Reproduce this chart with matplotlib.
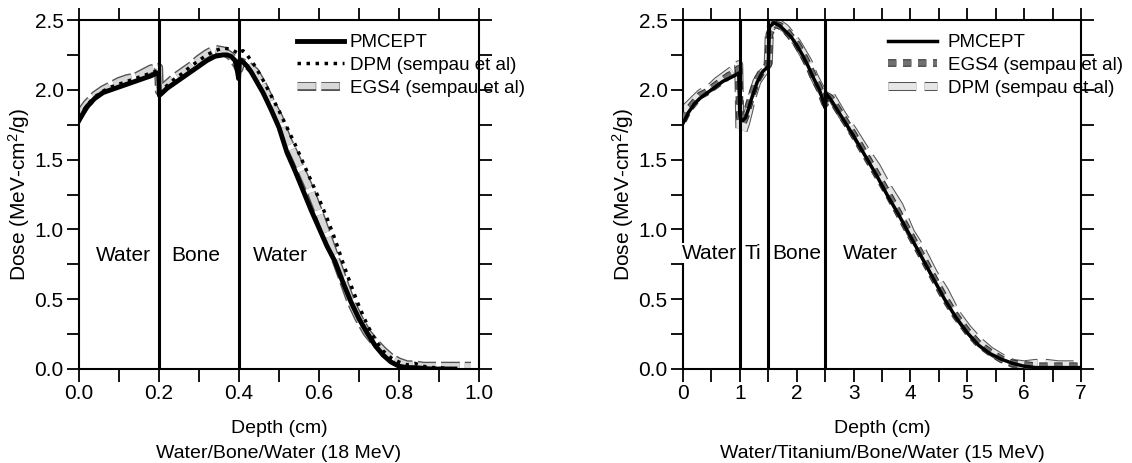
import matplotlib
matplotlib.use("Agg")
import matplotlib.pyplot as plt
import matplotlib.patheffects as pe
from matplotlib.ticker import MultipleLocator

plt.rcParams['font.family'] = ['Liberation Sans', 'DejaVu Sans']
plt.rcParams['mathtext.default'] = 'regular'

# ---------------- Left panel data (Water/Bone/Water, 18 MeV) ----------------
l_pm_x = [0, 0.01, 0.02, 0.04, 0.06, 0.08, 0.10, 0.12, 0.14, 0.16, 0.18, 0.195, 0.199,
          0.201, 0.205, 0.22, 0.24, 0.26, 0.28, 0.30, 0.32, 0.34, 0.36, 0.37, 0.38, 0.39, 0.395, 0.399,
          0.401, 0.405, 0.41, 0.42, 0.43, 0.44, 0.46, 0.48, 0.50, 0.52, 0.54, 0.56, 0.58, 0.60,
          0.62, 0.64, 0.66, 0.68, 0.70, 0.72, 0.74, 0.76, 0.78, 0.80, 0.82, 0.84, 0.86, 0.88,
          0.90, 0.92, 0.94]
l_pm_y = [1.78, 1.83, 1.88, 1.94, 1.98, 2.00, 2.02, 2.04, 2.06, 2.08, 2.10, 2.12, 2.12,
          1.96, 1.97, 2.01, 2.05, 2.09, 2.13, 2.17, 2.21, 2.24, 2.25, 2.25, 2.24, 2.21, 2.15, 2.08,
          2.20, 2.21, 2.20, 2.17, 2.13, 2.08, 1.98, 1.86, 1.73, 1.55, 1.42, 1.28, 1.14, 1.01,
          0.88, 0.77, 0.62, 0.48, 0.36, 0.26, 0.17, 0.10, 0.05, 0.02, 0.01, 0.01, 0.005, 0.0,
          0.0, 0.0, 0.0]

l_dpm_x = [0, 0.02, 0.04, 0.06, 0.08, 0.10, 0.12, 0.14, 0.16, 0.18, 0.199,
           0.201, 0.22, 0.24, 0.26, 0.28, 0.30, 0.32, 0.34, 0.36, 0.38, 0.399,
           0.401, 0.41, 0.42, 0.44, 0.46, 0.48, 0.50, 0.52, 0.54, 0.56, 0.58, 0.60, 0.62,
           0.64, 0.66, 0.68, 0.70, 0.72, 0.74, 0.76, 0.78, 0.80, 0.82, 0.84, 0.86, 0.88,
           0.90, 0.92, 0.94]
l_dpm_y = [1.80, 1.89, 1.95, 1.99, 2.02, 2.04, 2.06, 2.08, 2.10, 2.12, 2.14,
           1.98, 2.03, 2.08, 2.12, 2.17, 2.21, 2.25, 2.28, 2.30, 2.29, 2.26,
           2.27, 2.28, 2.25, 2.17, 2.07, 1.96, 1.85, 1.73, 1.61, 1.48, 1.35, 1.22, 1.08,
           0.93, 0.76, 0.60, 0.45, 0.32, 0.21, 0.13, 0.08, 0.05, 0.03, 0.04, 0.02, 0.01,
           0.01, 0.005, 0.0]

l_egs_x = [0, 0.02, 0.04, 0.06, 0.08, 0.10, 0.12, 0.14, 0.16, 0.18, 0.199,
           0.201, 0.22, 0.24, 0.26, 0.28, 0.30, 0.32, 0.34, 0.36, 0.38, 0.395, 0.40,
           0.405, 0.42, 0.44, 0.46, 0.48, 0.50, 0.52, 0.54, 0.56, 0.58, 0.60, 0.62, 0.64,
           0.66, 0.68, 0.70, 0.72, 0.74, 0.76, 0.78, 0.80, 0.82, 0.84, 0.86, 0.88, 0.90,
           0.92, 0.94, 0.96, 0.98]
l_egs_y = [1.82, 1.90, 1.96, 2.00, 2.03, 2.06, 2.08, 2.09, 2.12, 2.15, 2.16,
           1.99, 2.04, 2.09, 2.13, 2.17, 2.22, 2.26, 2.29, 2.28, 2.24, 2.18, 2.15,
           2.20, 2.18, 2.13, 2.03, 1.91, 1.80, 1.65, 1.53, 1.40, 1.27, 1.12, 0.96, 0.80,
           0.64, 0.48, 0.36, 0.26, 0.19, 0.13, 0.08, 0.05, 0.03, 0.03, 0.02, 0.02, 0.02,
           0.02, 0.02, 0.02, 0.02]

l_bounds = [0.2, 0.4]
l_regions = ["Water", "Bone", "Water"]
l_region_x = [0.11, 0.293, 0.503]

# ---------------- Right panel data (Water/Titanium/Bone/Water, 15 MeV) ----------------
r_pm_x = [0, 0.1, 0.2, 0.3, 0.4, 0.5, 0.6, 0.7, 0.8, 0.9, 0.98,
          1.0, 1.02, 1.05, 1.1, 1.15, 1.2, 1.3, 1.4, 1.48, 1.5,
          1.52, 1.6, 1.7, 1.8, 1.9, 2.0, 2.1, 2.2, 2.3, 2.4, 2.48, 2.5,
          2.52, 2.6, 2.8, 3.0, 3.2, 3.4, 3.6, 3.8, 4.0, 4.2, 4.4, 4.6, 4.8, 5.0,
          5.2, 5.4, 5.6, 5.8, 6.0, 6.2, 6.4, 6.6, 6.8, 7.0]
r_pm_y = [1.76, 1.84, 1.90, 1.94, 1.97, 2.00, 2.03, 2.06, 2.08, 2.10, 2.12,
          1.82, 1.78, 1.78, 1.80, 1.86, 1.93, 2.05, 2.13, 2.16, 2.17,
          2.45, 2.48, 2.46, 2.42, 2.38, 2.32, 2.25, 2.17, 2.08, 2.00, 1.90, 1.87,
          1.97, 1.93, 1.80, 1.67, 1.53, 1.39, 1.24, 1.10, 0.95, 0.80, 0.65, 0.50, 0.37, 0.26,
          0.17, 0.11, 0.07, 0.04, 0.02, 0.01, 0.01, 0.01, 0.01, 0.01]

r_egs_x = [0, 0.1, 0.2, 0.3, 0.4, 0.5, 0.6, 0.7, 0.8, 0.9, 0.98,
           1.0, 1.02, 1.05, 1.1, 1.15, 1.2, 1.3, 1.4, 1.48, 1.5,
           1.52, 1.6, 1.7, 1.8, 1.9, 2.0, 2.1, 2.2, 2.3, 2.4, 2.48, 2.5,
           2.52, 2.6, 2.8, 3.0, 3.2, 3.4, 3.6, 3.8, 4.0, 4.2, 4.4, 4.6, 4.8, 5.0,
           5.2, 5.4, 5.6, 5.8, 6.0, 6.2, 6.4, 6.6, 6.8, 7.0]
r_egs_y = [1.78, 1.86, 1.91, 1.96, 1.98, 2.01, 2.04, 2.07, 2.10, 2.12, 2.15,
           1.80, 1.76, 1.76, 1.81, 1.88, 1.95, 2.07, 2.14, 2.17, 2.18,
           2.40, 2.47, 2.46, 2.43, 2.38, 2.33, 2.26, 2.18, 2.09, 2.01, 1.92, 1.90,
           1.96, 1.94, 1.81, 1.68, 1.54, 1.40, 1.26, 1.11, 0.96, 0.81, 0.66, 0.51, 0.38, 0.27,
           0.18, 0.12, 0.07, 0.04, 0.03, 0.02, 0.02, 0.02, 0.02, 0.02]

r_dpm_x = [0, 0.1, 0.2, 0.3, 0.4, 0.5, 0.6, 0.7, 0.8, 0.9, 0.98,
           1.0, 1.02, 1.05, 1.1, 1.15, 1.2, 1.3, 1.4, 1.48, 1.5,
           1.52, 1.6, 1.7, 1.8, 1.9, 2.0, 2.1, 2.2, 2.3, 2.4, 2.48, 2.5,
           2.52, 2.6, 2.8, 3.0, 3.2, 3.4, 3.6, 3.8, 4.0, 4.2, 4.4, 4.6, 4.8, 5.0,
           5.2, 5.4, 5.6, 5.8, 6.0, 6.2, 6.4, 6.6, 6.8, 7.0]
r_dpm_y = [1.85, 1.89, 1.93, 1.97, 2.00, 2.02, 2.06, 2.09, 2.12, 2.15, 2.18,
           1.72, 1.69, 1.70, 1.76, 1.84, 1.93, 2.06, 2.12, 2.15, 2.20,
           2.42, 2.49, 2.47, 2.44, 2.39, 2.34, 2.27, 2.20, 2.10, 2.02, 1.97, 1.98,
           1.99, 1.96, 1.82, 1.70, 1.57, 1.45, 1.30, 1.17, 0.98, 0.85, 0.69, 0.56, 0.40, 0.29,
           0.20, 0.13, 0.08, 0.04, 0.03, 0.04, 0.04, 0.03, 0.03, 0.03]

r_bounds = [1.0, 1.5, 2.5]
r_regions = ["Water", "Ti", "Bone", "Water"]
r_region_x = [0.47, 1.22, 2.0, 3.3]

fig = plt.figure(figsize=(11.32, 4.63), dpi=100)
axL = fig.add_axes([79/1132, 94/463, 400/1132, 349/463])
axR = fig.add_axes([683/1132, 94/463, 398/1132, 349/463])

FS = 15
XFS = 14
LFS = 13.5

def style(ax, xmaj, xmin, xlim, xfmt):
    ax.set_xlim(*xlim)
    ax.set_ylim(0, 2.5)
    ax.xaxis.set_major_locator(MultipleLocator(xmaj))
    ax.xaxis.set_minor_locator(MultipleLocator(xmin))
    ax.yaxis.set_major_locator(MultipleLocator(0.5))
    ax.yaxis.set_minor_locator(MultipleLocator(0.25))
    ax.tick_params(which='both', direction='out', length=9, width=1.3,
                   top=True, right=True, labelsize=FS, pad=2)
    for s in ax.spines.values():
        s.set_linewidth(1.5)
    ax.xaxis.set_major_formatter(xfmt)
    ax.set_ylabel('Dose (MeV-cm$^{2}$/g)', fontsize=FS, labelpad=1.5)

style(axL, 0.2, 0.1, (0, 1.0), matplotlib.ticker.FormatStrFormatter('%.1f'))
style(axR, 1, 0.5, (0, 7), matplotlib.ticker.FormatStrFormatter('%d'))
axL.set_xlabel('Depth (cm)\nWater/Bone/Water (18 MeV)', fontsize=XFS, linespacing=1.62, labelpad=12)
axR.set_xlabel('Depth (cm)\nWater/Titanium/Bone/Water (15 MeV)', fontsize=XFS, linespacing=1.62, labelpad=12)

outline = [pe.Stroke(linewidth=6.5, foreground='#555555'), pe.Normal()]

# Left panel
axL.plot(l_egs_x, l_egs_y, color='#d8d8d8', lw=4.5, ls=(0, (3, 0.8)),
         path_effects=outline, label='EGS4 (sempau et al)', zorder=2)
axL.plot(l_pm_x, l_pm_y, color='black', lw=3.5, label='PMCEPT', zorder=3)
axL.plot(l_dpm_x, l_dpm_y, color='black', lw=2.5, ls=(0, (1, 1.6)),
         label='DPM (sempau et al)', zorder=4)
for b in l_bounds:
    axL.axvline(b, color='black', lw=2.2, zorder=5)
for t, xx in zip(l_regions, l_region_x):
    axL.text(xx, 0.81, t, fontsize=FS, ha='center', va='center', zorder=6)
h, lab = axL.get_legend_handles_labels()
order = [1, 2, 0]
axL.legend([h[i] for i in order], [lab[i] for i in order], loc='upper left',
           bbox_to_anchor=(0.545, 0.96), frameon=False, fontsize=LFS,
           handlelength=2.5, handletextpad=0.3, labelspacing=0.3,
           borderaxespad=0, borderpad=0)

# Right panel
axR.plot(r_dpm_x, r_dpm_y, color='#e6e6e6', lw=5, ls=(0, (4, 1.2)),
         path_effects=outline, label='DPM (sempau et al)', zorder=2)
axR.plot(r_egs_x, r_egs_y, color='#707070', lw=4, ls=(0, (1.5, 1.2)),
         path_effects=[pe.Stroke(linewidth=5.5, foreground='#333333'), pe.Normal()],
         label='EGS4 (sempau et al)', zorder=3)
axR.plot(r_pm_x, r_pm_y, color='black', lw=2.5, label='PMCEPT', zorder=4)
for b in r_bounds:
    axR.axvline(b, color='black', lw=2.2, zorder=5)
for t, xx in zip(r_regions, r_region_x):
    axR.text(xx, 0.83, t, fontsize=FS, ha='center', va='center', zorder=6,
             bbox=dict(facecolor='white', edgecolor='none', pad=0.5))
h, lab = axR.get_legend_handles_labels()
order = [2, 1, 0]
axR.legend([h[i] for i in order], [lab[i] for i in order], loc='upper left',
           bbox_to_anchor=(0.515, 0.96), frameon=False, fontsize=LFS,
           handlelength=2.6, handletextpad=0.6, labelspacing=0.3,
           borderaxespad=0, borderpad=0)

fig.savefig('out.png', dpi=100)
